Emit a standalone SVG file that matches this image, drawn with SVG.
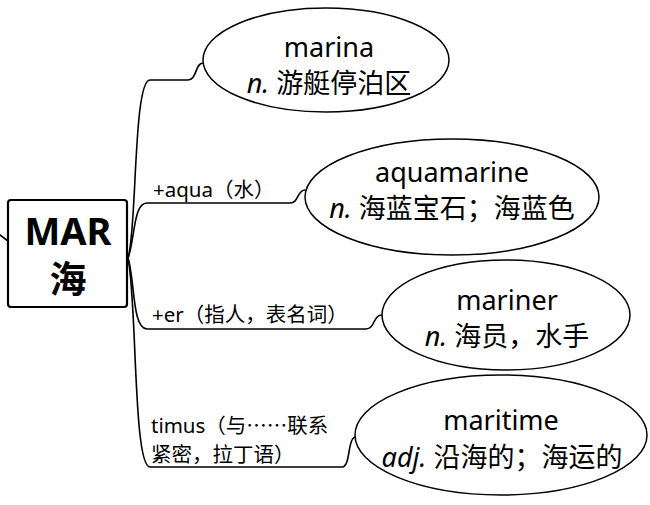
<svg xmlns="http://www.w3.org/2000/svg" width="650" height="505" viewBox="0 0 650 505">
<style>
.conn{fill:none;stroke:#000;stroke-width:1.6;stroke-linecap:round}
.ell{fill:#fff;stroke:#000;stroke-width:1.5}
.t{font-family:"Noto Sans","Noto Sans CJK SC",sans-serif;fill:#000;text-anchor:middle}
.big{font-size:27px}
.lbl{font-family:"Noto Sans","Noto Sans CJK SC",sans-serif;font-size:20.5px;fill:#000}
.cjk{font-family:"Noto Sans CJK SC",sans-serif}
.it{font-style:italic}
</style>
<rect width="650" height="505" fill="#fff"/>
<g id="connectors">
<path class="conn" d="M0,235 L8,241"/>
<path class="conn" d="M128,258 C137,232 133,80 150,80 L188,80 C197,80 195,63 203,63"/>
<path class="conn" d="M128,258 C135,240 133,203 147,203 L290,203 C299,203 297,190 305,190"/>
<path class="conn" d="M128,258 C135,280 132,329 147,329 L366,329 C375,329 373,315 382,315"/>
<path class="conn" d="M128,258 C137,300 133,467 150,467 L342,467 C351,467 347,437 356,437"/>
</g>
<g id="root">
<rect x="8" y="200" width="119" height="107" rx="3" fill="#fff" stroke="#000" stroke-width="2.2"/>
<text class="t" x="68" y="245" font-size="38" font-weight="bold">MAR</text>
<text class="t" x="68" y="293" font-size="37" font-weight="bold">海</text>
</g>
<g id="label-aqua"><text class="lbl" x="153" y="197">+aqua（水）</text></g>
<g id="label-er"><text class="lbl" x="152" y="322">+er（指人，表名词）</text></g>
<g id="label-timus"><text class="lbl" x="151" y="433">timus（与<tspan class="cjk">……</tspan>联系</text><text class="lbl" x="151" y="462">紧密，拉丁语）</text></g>
<g id="node-marina">
<ellipse class="ell" cx="326" cy="60" rx="123" ry="52"/>
<text class="t big" x="329" y="57">marina</text>
<text class="t big" x="329" y="93"><tspan class="it">n.</tspan> 游艇停泊区</text>
</g>
<g id="node-aquamarine">
<ellipse class="ell" cx="452" cy="197" rx="147" ry="58"/>
<text class="t big" x="452" y="182">aquamarine</text>
<text class="t big" x="452" y="218"><tspan class="it">n.</tspan> 海蓝宝石；海蓝色</text>
</g>
<g id="node-mariner">
<ellipse class="ell" cx="506" cy="315" rx="124" ry="55"/>
<text class="t big" x="507" y="310">mariner</text>
<text class="t big" x="507" y="346"><tspan class="it">n.</tspan> 海员，水手</text>
</g>
<g id="node-maritime">
<ellipse class="ell" cx="501" cy="435" rx="146" ry="60"/>
<text class="t big" x="501" y="430">maritime</text>
<text class="t big" x="502" y="467"><tspan class="it">adj.</tspan> 沿海的；海运的</text>
</g>
</svg>
